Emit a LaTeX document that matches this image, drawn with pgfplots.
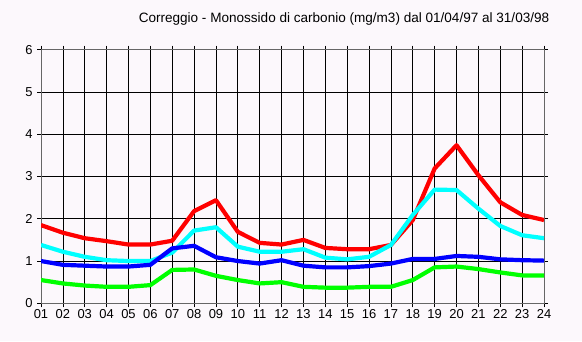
\documentclass[border=0pt]{standalone}
\usepackage{fontspec}
\setmainfont{Liberation Sans}
\usepackage{pgfplots}
\pgfplotsset{compat=1.18}
\definecolor{bg}{RGB}{252,248,252}
\definecolor{cR}{RGB}{255,0,0}
\definecolor{cC}{RGB}{0,255,255}
\definecolor{cB}{RGB}{0,0,255}
\definecolor{cG}{RGB}{0,255,0}
\begin{document}
\begin{tikzpicture}[x=1bp,y=1bp]
\fill[bg] (0,0) rectangle (582,341);
\node[font=\fontsize{13.6}{15}\selectfont] at (344,322) {Correggio - Monossido di carbonio (mg/m3) dal 01/04/97 al 31/03/98};
\begin{axis}[
  at={(41bp,37.7bp)}, anchor=south west,
  scale only axis, width=503bp, height=253.6bp,
  xmin=1, xmax=24, ymin=0, ymax=6,
  xtick={1,...,24},
  xticklabels={01,02,03,04,05,06,07,08,09,10,11,12,13,14,15,16,17,18,19,20,21,22,23,24},
  ytick={0,...,6},
  grid=major,
  major grid style={black, line width=0.7bp},
  axis line style={black!60, line width=1bp},
  tick align=outside, major tick length=4bp,
  tick style={black, line width=0.7bp},
  ticklabel style={font=\fontsize{13}{15}\selectfont},
  /pgf/number format/assume math mode=true,
  xticklabel style={yshift=1bp},
  yticklabel style={xshift=-1bp},
  every axis plot/.append style={line width=4.2bp, line join=round},
]
\addplot[cR] coordinates {(1,1.85)(2,1.67)(3,1.54)(4,1.47)(5,1.39)(6,1.39)(7,1.48)(8,2.18)(9,2.44)(10,1.69)(11,1.43)(12,1.39)(13,1.50)(14,1.31)(15,1.28)(16,1.28)(17,1.38)(18,1.97)(19,3.19)(20,3.74)(21,3.03)(22,2.39)(23,2.09)(24,1.97)};
\addplot[cC] coordinates {(1,1.38)(2,1.22)(3,1.10)(4,1.02)(5,1.00)(6,1.00)(7,1.20)(8,1.72)(9,1.80)(10,1.34)(11,1.22)(12,1.22)(13,1.28)(14,1.08)(15,1.04)(16,1.10)(17,1.38)(18,2.09)(19,2.69)(20,2.68)(21,2.24)(22,1.83)(23,1.61)(24,1.54)};
\addplot[cB] coordinates {(1,1.00)(2,0.91)(3,0.89)(4,0.87)(5,0.87)(6,0.91)(7,1.30)(8,1.36)(9,1.09)(10,1.00)(11,0.94)(12,1.02)(13,0.89)(14,0.85)(15,0.85)(16,0.88)(17,0.94)(18,1.05)(19,1.05)(20,1.12)(21,1.10)(22,1.04)(23,1.02)(24,1.01)};
\addplot[cG] coordinates {(1,0.55)(2,0.47)(3,0.42)(4,0.39)(5,0.39)(6,0.43)(7,0.79)(8,0.80)(9,0.65)(10,0.55)(11,0.47)(12,0.50)(13,0.39)(14,0.37)(15,0.37)(16,0.39)(17,0.39)(18,0.55)(19,0.85)(20,0.87)(21,0.81)(22,0.73)(23,0.66)(24,0.66)};
\end{axis}
\end{tikzpicture}
\end{document}
